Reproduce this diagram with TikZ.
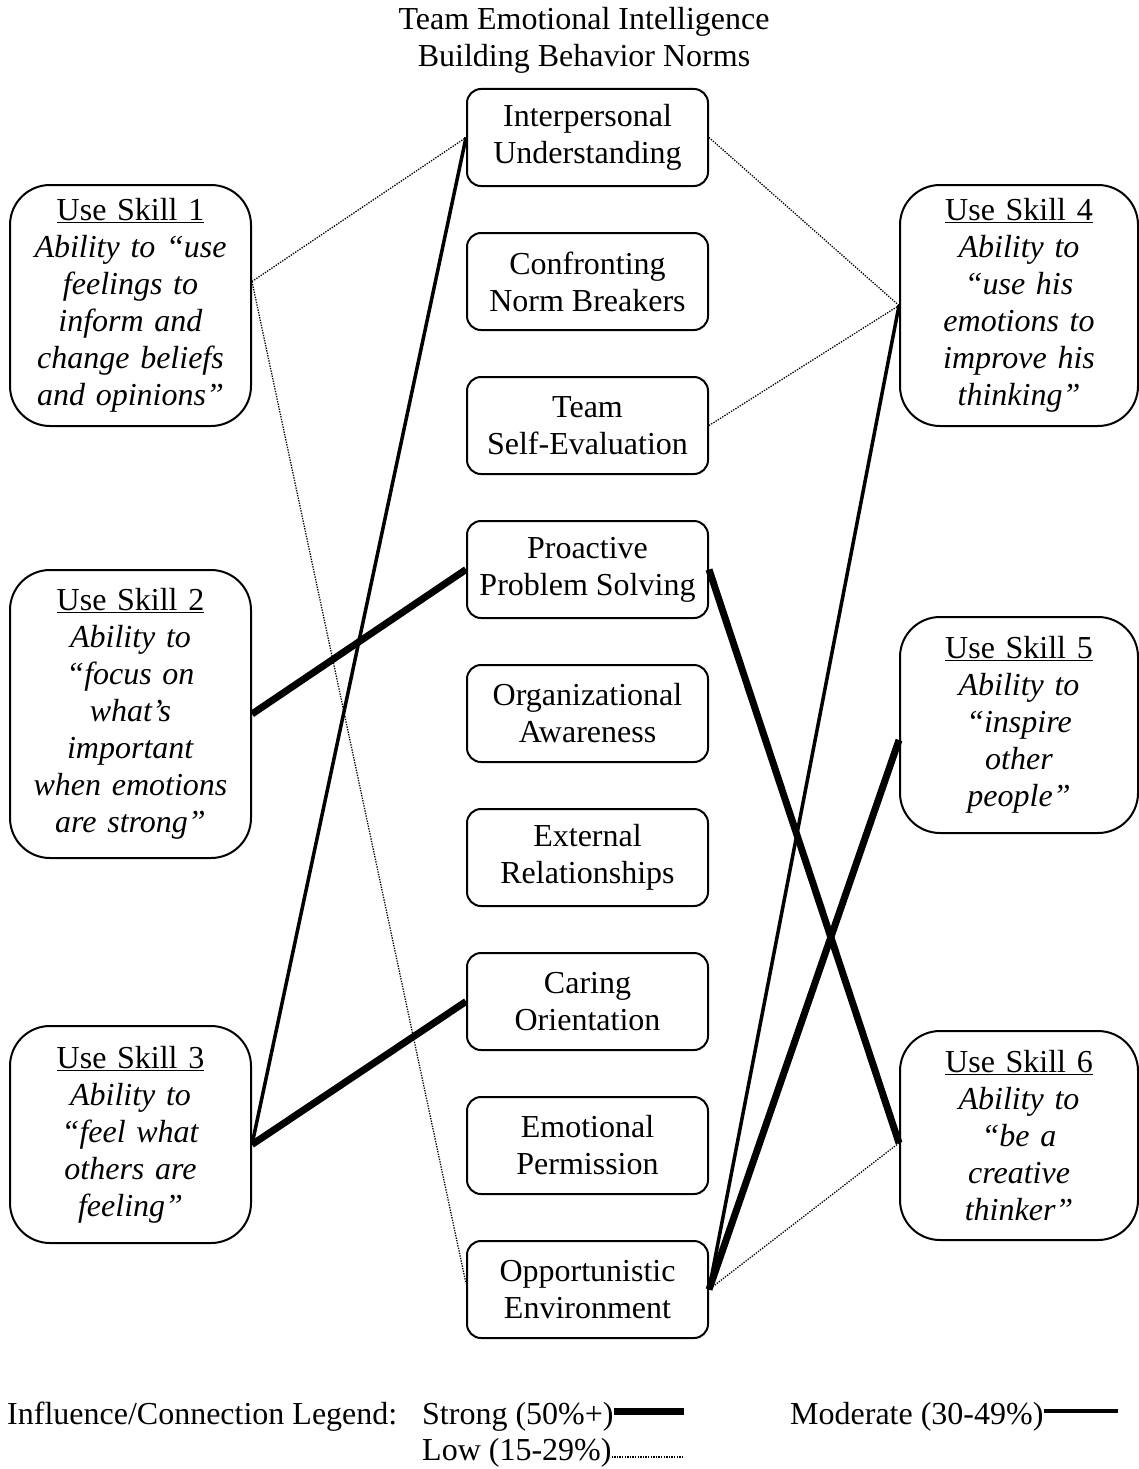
\documentclass[tikz,border=0pt]{standalone}
\usepackage{fontspec}
\setmainfont{Liberation Serif}
\begin{document}
\begin{tikzpicture}[x=1pt,y=-1pt,
  every node/.style={font=\fontsize{32}{37}\selectfont},
  mid/.style={draw, line width=2pt, rounded corners=14pt, minimum width=241pt, minimum height=97pt, inner sep=0pt, align=center},
  side/.style={draw, line width=2pt, rounded corners=40pt, inner sep=0pt, align=center, text width=236pt},
  strong/.style={line width=7pt},
  moderate/.style={line width=3.5pt},
  low/.style={line width=1.3pt, dash pattern=on 1.3pt off 1.3pt},
  legtext/.style={anchor=base west, inner sep=0pt}]
\fill[white] (0,0) rectangle (1139,1469);
\useasboundingbox (0,0) rectangle (1139,1469);

\node (title) [align=center, inner sep=0pt] at (584,40) {Team Emotional Intelligence\\Building Behavior Norms};

% centre column
\node[mid] (n1) at (587.5,137.5) {Interpersonal\\Understanding};
\node[mid] (n2) at (587.5,281.5) {Confronting\\Norm Breakers};
\node[mid] (n3) at (587.5,425.5) {Team\\Self-Evaluation};
\node[mid] (n4) at (587.5,569.5) {Proactive\\Problem Solving};
\node[mid] (n5) at (587.5,713.5) {Organizational\\Awareness};
\node[mid] (n6) at (587.5,857.5) {External\\Relationships};
\node[mid] (n7) at (587.5,1001.5) {Caring\\Orientation};
\node[mid] (n8) at (587.5,1145.5) {Emotional\\Permission};
\node[mid] (n9) at (587.5,1289.5) {Opportunistic\\Environment};

% left column
\node[side, minimum width=241pt, minimum height=241pt] (s1) at (130.5,305.5)
  {\underline{Use Skill 1}\\ \textit{Ability to “use}\\ \textit{feelings to}\\ \textit{inform and}\\ \textit{change beliefs}\\ \textit{and opinions”}};
\node[side, minimum width=241pt, minimum height=288pt] (s2) at (130.5,714)
  {\underline{Use Skill 2}\\ \textit{Ability to}\\ \textit{“focus on}\\ \textit{what’s}\\ \textit{important}\\ \textit{when emotions}\\ \textit{are strong”}};
\node[side, minimum width=241pt, minimum height=217pt] (s3) at (130.5,1134.5)
  {\underline{Use Skill 3}\\ \textit{Ability to}\\ \textit{“feel what}\\ \textit{others are}\\ \textit{feeling”}};

% right column
\node[side, minimum width=238pt, minimum height=241pt] (s4) at (1019,305.5)
  {\underline{Use Skill 4}\\ \textit{Ability to}\\ \textit{“use his}\\ \textit{emotions to}\\ \textit{improve his}\\ \textit{thinking”}};
\node[side, minimum width=238pt, minimum height=216pt] (s5) at (1019,725)
  {\underline{Use Skill 5}\\ \textit{Ability to}\\ \textit{“inspire}\\ \textit{other}\\ \textit{people”}};
\node[side, minimum width=238pt, minimum height=209pt] (s6) at (1019,1135.5)
  {\underline{Use Skill 6}\\ \textit{Ability to}\\ \textit{“be a}\\ \textit{creative}\\ \textit{thinker”}};

% connection points
\coordinate (s1p) at ([yshift=24pt]s1.east);
\coordinate (s3p) at ([yshift=-10pt]s3.east);
\coordinate (s5p) at ([yshift=-15pt]s5.west);
\coordinate (s6p) at ([yshift=-7.5pt]s6.west);
\coordinate (n9w) at ([yshift=6pt]n9.west);

% connectors
\draw[low] (s1p) -- (n1.west);
\draw[low] (s1p) -- (n9w);
\draw[moderate] (n1.west) -- (s3p);
\draw[low] (n1.east) -- (s4.west);
\draw[low] (n3.east) -- (s4.west);
\draw[moderate] (s4.west) -- (n9.east);
\draw[strong] (n4.west) -- (s2.east);
\draw[strong] (n4.east) -- (s6p);
\draw[strong] (s5p) -- (n9.east);
\draw[low] (s6p) -- (n9.east);
\draw[strong] (n7.west) -- (s3p);

% legend
\node[legtext] (leg) at (7,1424) {Influence/Connection Legend:};
\node[legtext] (lstr) at (422,1424) {Strong (50\%+)};
\node[legtext] (lmod) at (790,1424) {Moderate (30-49\%)};
\node[legtext] (llow) at (422,1460) {Low (15-29\%)};
\coordinate (lstrE) at (684,1411);
\coordinate (lmodE) at (1118,1411);
\coordinate (llowE) at (682,1457);
\draw[strong] (lstr.east |- lstrE) -- (lstrE);
\draw[moderate] (lmod.east |- lmodE) -- (lmodE);
\draw[low] (llow.east |- llowE) -- (llowE);
\end{tikzpicture}
\end{document}
